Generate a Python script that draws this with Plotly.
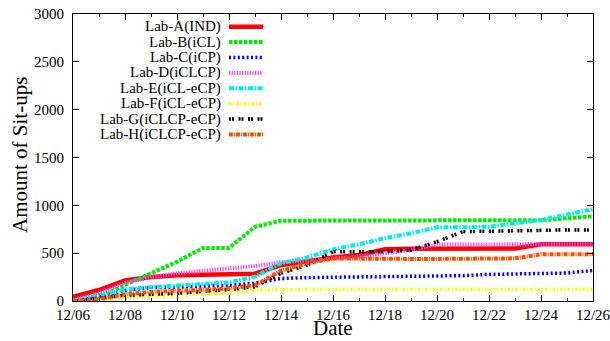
import plotly.graph_objects as go

dates = ["2013-12-06", "2013-12-07", "2013-12-08", "2013-12-09", "2013-12-10",
         "2013-12-11", "2013-12-12", "2013-12-13", "2013-12-14", "2013-12-15",
         "2013-12-16", "2013-12-17", "2013-12-18", "2013-12-19", "2013-12-20",
         "2013-12-21", "2013-12-22", "2013-12-23", "2013-12-24", "2013-12-25",
         "2013-12-26"]

lab_a = [45, 115, 215, 250, 270, 275, 280, 285, 375, 420, 455, 480, 540, 545, 545, 548, 550, 550, 593, 593, 593]
lab_b = [0, 30, 170, 290, 410, 555, 555, 775, 840, 840, 840, 840, 840, 840, 840, 840, 840, 840, 845, 865, 885]
lab_c = [0, 40, 110, 140, 145, 155, 165, 185, 235, 245, 248, 250, 252, 255, 258, 265, 278, 280, 282, 292, 320]
lab_d = [10, 80, 190, 250, 290, 315, 335, 365, 405, 422, 436, 463, 499, 533, 590, 593, 593, 593, 593, 593, 593]
lab_e = [0, 55, 120, 145, 160, 185, 195, 255, 395, 455, 540, 593, 656, 708, 770, 771, 777, 812, 847, 905, 960]
lab_f = [0, 10, 35, 45, 55, 65, 80, 115, 120, 120, 120, 120, 120, 120, 120, 120, 120, 120, 120, 120, 120]
lab_g = [0, 30, 60, 70, 80, 100, 120, 150, 290, 375, 515, 516, 516, 533, 620, 725, 730, 740, 743, 743, 743]
lab_h = [0, 20, 70, 95, 108, 115, 133, 165, 315, 395, 445, 440, 440, 440, 440, 440, 440, 446, 488, 490, 490]

names = ["Lab-A(IND)", "Lab-B(iCL)", "Lab-C(iCP)", "Lab-D(iCLCP)", "Lab-E(iCL-eCP)",
         "Lab-F(iCL-eCP)", "Lab-G(iCLCP-eCP)", "Lab-H(iCLCP-eCP)"]
series = [lab_a, lab_b, lab_c, lab_d, lab_e, lab_f, lab_g, lab_h]
colors = ["#ff0000", "#00ee00", "#0000ff", "#ff44ff", "#00eeee", "#ffff00", "#000000", "#ff4d00"]
widths = [4.5, 4, 3.5, 4, 4, 3.5, 3.5, 4]
dashes = ["solid", "3.5px,1.5px", "2px,2.4px", "1.3px,1.3px", "5px,1.5px,1.5px,1.5px",
          "2.5px,2px,1px,2px", "2px,1px,2px,4.5px", "4px,1px,1px,1px"]

font_family = "Liberation Serif"
fig = go.Figure()
for nm, ys, c, w, d in zip(names, series, colors, widths, dashes):
    fig.add_trace(go.Scatter(x=dates, y=ys, mode="lines", name=nm,
                             line=dict(color=c, width=w, dash=d), showlegend=False))

L, R, T, B = 73, 593, 14, 301
pw, ph = R - L, B - T

# custom gnuplot-style legend (text left, sample right)
for i, (nm, c, w, d) in enumerate(zip(names, colors, widths, dashes)):
    ypx = 26.7 + i * 15.4
    yp = (B - ypx) / ph
    fig.add_annotation(x=(222 - L) / pw, y=yp, xref="paper", yref="paper", text=nm,
                       showarrow=False, xanchor="right", yanchor="middle", borderpad=0,
                       font=dict(family=font_family, size=15, color="black"))
    fig.add_shape(type="line", xref="paper", yref="paper",
                  x0=(229 - L) / pw, x1=(263 - L) / pw, y0=yp, y1=yp,
                  line=dict(color=c, width=w, dash=d))

# axis titles
fig.add_annotation(x=(20 - L) / pw, y=(B - 155) / ph, xref="paper", yref="paper",
                   text="Amount of Sit-ups", textangle=-90, showarrow=False,
                   xanchor="center", yanchor="middle", borderpad=0,
                   font=dict(family=font_family, size=21, color="black"))
fig.add_annotation(x=(333 - L) / pw, y=(B - 341) / ph, xref="paper", yref="paper",
                   text="Date", showarrow=False, xanchor="center", yanchor="bottom",
                   borderpad=0,
                   font=dict(family=font_family, size=21, color="black"))

axis_common = dict(showline=True, linecolor="black", linewidth=1, mirror="ticks",
                   ticks="inside", tickcolor="black", showgrid=False, zeroline=False,
                   automargin=False, ticklabeloverflow="allow",
                   tickfont=dict(family=font_family, size=15, color="black"))
fig.update_xaxes(type="date", range=["2013-12-06", "2013-12-26"], dtick=2 * 86400000,
                 tick0="2013-12-06", tickformat="%m/%d", ticklen=6, ticklabelstandoff=0,
                 minor=dict(ticks="inside", dtick=86400000, ticklen=3, tickcolor="black"),
                 **axis_common)
fig.update_yaxes(range=[0, 3000], dtick=500, ticklen=6, ticklabelstandoff=5,
                 **axis_common)
fig.update_layout(width=610, height=341, margin=dict(l=L, r=610 - R, t=T, b=341 - B),
                  plot_bgcolor="white", paper_bgcolor="white",
                  font=dict(family=font_family, color="black"))
fig.write_html("out.html")
